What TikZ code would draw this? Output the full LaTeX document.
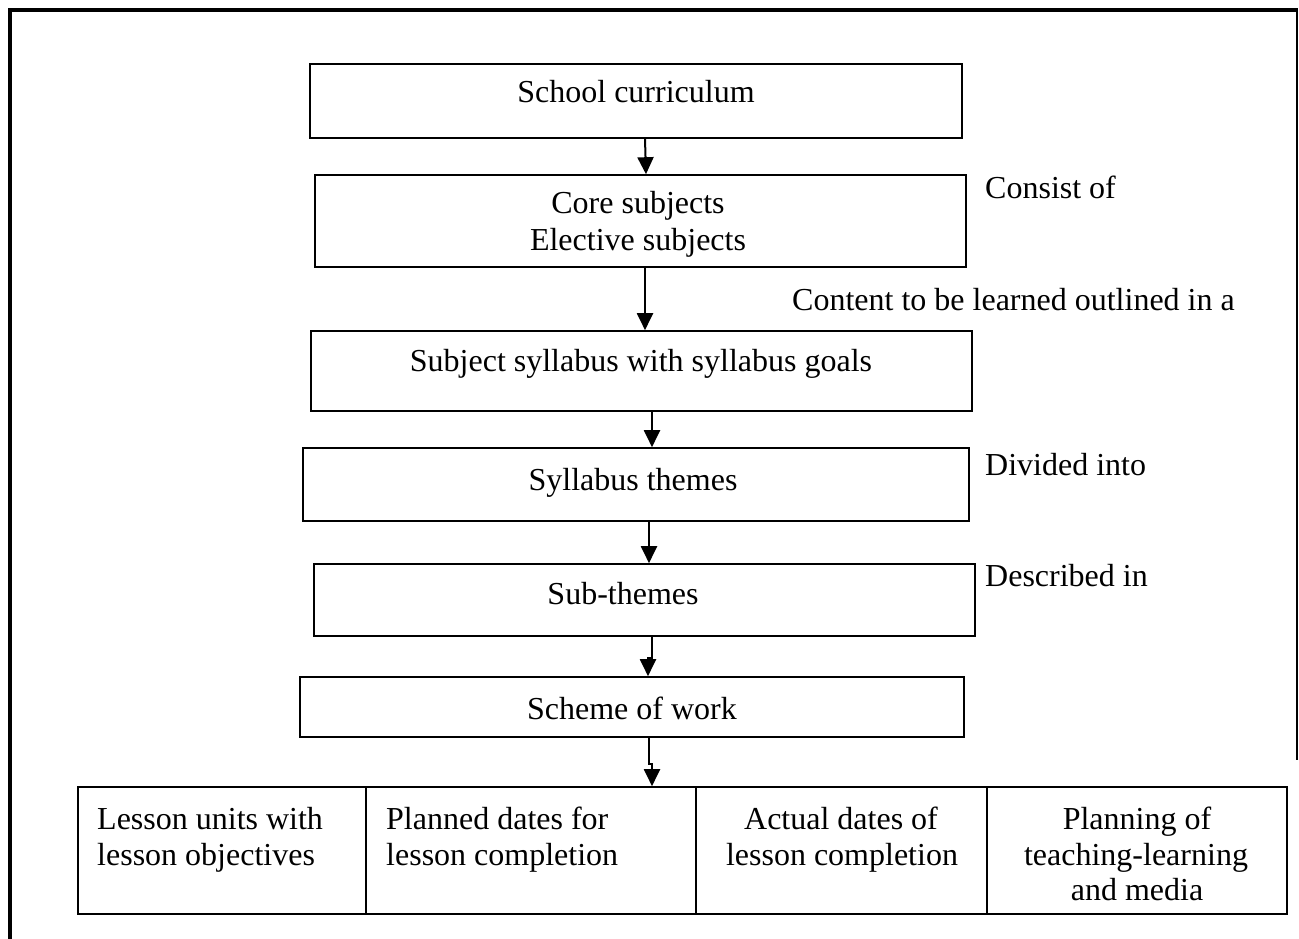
\documentclass[tikz,border=0pt]{standalone}
\usepackage{fontspec}
\setmainfont{Liberation Serif}
\usetikzlibrary{arrows.meta}
\begin{document}
\begin{tikzpicture}[x=1pt,y=-1pt,
  box/.style={draw, line width=1.6pt, inner sep=0pt},
  txt/.style={font=\fontsize{32}{36}\selectfont, inner sep=0pt, anchor=base},
  ltxt/.style={txt, anchor=base west},
  arr/.style={line width=2pt, -{Triangle[length=17pt,width=16pt]}},
  frame/.style={line width=4pt}]
\useasboundingbox (0,0) rectangle (1299,939);
% outer frame
\coordinate (ftl) at (10,10);
\coordinate (ftr) at (1297,10);
\coordinate (fbl) at (10,939);
\coordinate (fbr) at (1297,760);
\draw[frame] (fbl) -- (ftl) -- ([xshift=1pt]ftr);
\draw[line width=1.5pt] (ftr) -- (fbr);
% boxes
\node[box, minimum width=652, minimum height=74] (b1) at (636,101) {};
\node[box, minimum width=651, minimum height=92] (b2) at (640.5,221) {};
\node[box, minimum width=661, minimum height=80] (b3) at (641.5,371) {};
\node[box, minimum width=666, minimum height=73] (b4) at (636,484.5) {};
\node[box, minimum width=661, minimum height=72] (b5) at (644.5,600) {};
\node[box, minimum width=664, minimum height=60] (b6) at (632,707) {};
\node[box, minimum width=288, minimum height=127] (c1) at (222,850.5) {};
\node[box, minimum width=330, minimum height=127] (c2) at (531,850.5) {};
\node[box, minimum width=291, minimum height=127] (c3) at (841.5,850.5) {};
\node[box, minimum width=300, minimum height=127] (c4) at (1137,850.5) {};
% texts in boxes
\node[txt] (t1) at (636,103) {School curriculum};
\node[txt] (t2a) at (638,214) {Core subjects};
\node[txt] (t2b) at (638,250) {Elective subjects};
\node[txt] (t3) at (641,371) {Subject syllabus with syllabus goals};
\node[txt] (t4) at (633,490) {Syllabus themes};
\node[txt] (t5) at (623,604) {Sub-themes};
\node[txt] (t6) at (632,719) {Scheme of work};
\node[ltxt] (u1a) at (97,829) {Lesson units with};
\node[ltxt] (u1b) at (97,865) {lesson objectives};
\node[ltxt] (u2a) at (386,829) {Planned dates for};
\node[ltxt] (u2b) at (386,865) {lesson completion};
\node[txt] (u3a) at (841,829) {Actual dates of};
\node[txt] (u3b) at (842,865) {lesson completion};
\node[txt] (u4a) at (1137,829) {Planning of};
\node[txt] (u4b) at (1136,865) {teaching-learning};
\node[txt] (u4c) at (1137,900) {and media};
% side labels
\node[ltxt] (l1) at (985,199) {Consist of};
\node[ltxt] (l2) at (792,310) {Content to be learned outlined in a};
\node[ltxt] (l3) at (985,475) {Divided into};
\node[ltxt] (l4) at (985,586) {Described in};
% arrows
\draw[arr] (b1.south -| 645,0) -- (b2.north -| 646,0);
\draw[arr] (b2.south -| 645,0) -- (b3.north -| 645,0);
\draw[arr] (b3.south -| 652,0) -- (b4.north -| 652,0);
\draw[arr] (b4.south -| 649,0) -- (b5.north -| 649,0);
\draw[arr] (b5.south -| 652,0) -- ++(0,21) -| (b6.north -| 648,0);
\draw[arr] (b6.south -| 649,0) -- ++(0,26) -| (c2.north -| 652,0);
\end{tikzpicture}
\end{document}
